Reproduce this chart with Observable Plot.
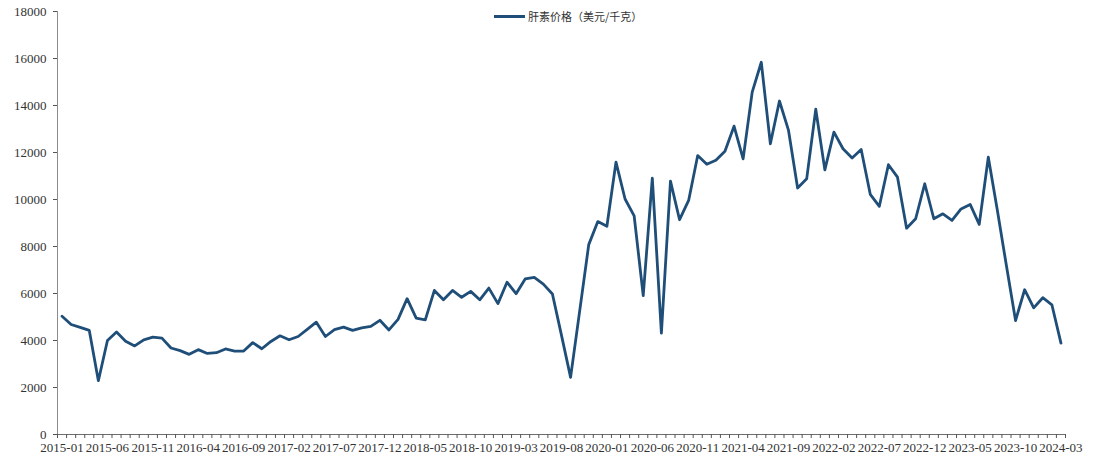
<!DOCTYPE html>
<html>
<head>
<meta charset="utf-8">
<script src="https://cdn.jsdelivr.net/npm/d3@7"></script>
<script src="https://cdn.jsdelivr.net/npm/@observablehq/plot@0.6"></script>
<style>
  html, body { margin: 0; padding: 0; background: #fff; }
  #wrap { position: relative; width: 1099px; height: 456px; }
  #wrap svg, #wrap svg text { font-family: "Liberation Serif", "Times New Roman", serif; }
  #legend { position: absolute; top: 8px; left: 494px; display: flex; align-items: center;
    font-family: "Noto Sans CJK SC", sans-serif; font-size: 11px; color: #333; white-space: nowrap; }
  #legend .sw { width: 31px; height: 3px; background: #1f4e79; margin-right: 3px; }
</style>
</head>
<body>
<div id="wrap"><div id="legend"><span class="sw"></span><span id="legtext"></span></div></div>
<script>
const seriesName = "肝素价格（美元/千克）";
const startYear = 2015, startMonth = 1, monthCount = 111;
const prices = [
  5030, 4680, 4560, 4430, 2290, 4000, 4360, 3970, 3770, 4030, 4140, 4100,
  3680, 3570, 3410, 3610, 3450, 3480, 3640, 3550, 3550, 3910, 3650, 3960,
  4200, 4030, 4170, 4470, 4780, 4170, 4460, 4570, 4430, 4540, 4600, 4860,
  4450, 4900, 5780, 4950, 4880, 6130, 5730, 6130, 5840, 6090, 5730, 6230,
  5570, 6480, 5990, 6620, 6690, 6400, 5980, 4220, 2430, 5250, 8080, 9060,
  8860, 11590, 10020, 9300, 5910, 10910, 4310, 10780, 9140, 9960, 11870, 11500,
  11670, 12050, 13120, 11730, 14570, 15840, 12370, 14190, 12940, 10490, 10880, 13840,
  11260, 12870, 12160, 11770, 12130, 10220, 9710, 11480, 10950, 8780, 9180, 10670,
  9180, 9390, 9110, 9600, 9790, 8940, 11800, 9530, 7170, 4850, 6160, 5390,
  5820, 5520, 3890
];
const yTicks = [0, 2000, 4000, 6000, 8000, 10000, 12000, 14000, 16000, 18000];
const labelEvery = 5;

// category labels
const months = [];
for (let i = 0; i < monthCount; i++) {
  const m0 = startMonth - 1 + i;
  const y = startYear + Math.floor(m0 / 12);
  const m = (m0 % 12) + 1;
  months.push(`${y}-${String(m).padStart(2, "0")}`);
}
const data = prices.map((v, i) => ({i, month: months[i], value: v}));
const xDomain = [-0.5, monthCount - 0.5];
const boundaries = d3.range(monthCount + 1).map(k => k - 0.5);
const labelIdx = d3.range(0, monthCount, labelEvery);

document.getElementById("legtext").textContent = seriesName;

const chart = Plot.plot({
  width: 1099,
  height: 456,
  marginLeft: 57,
  marginRight: 34,
  marginTop: 11,
  marginBottom: 22,
  style: "font-family: 'Liberation Serif', 'Times New Roman', serif; font-size: 13px; color: #333; background: #fff; overflow: visible;",
  x: {type: "linear", domain: xDomain},
  y: {domain: [0, 18000]},
  marks: [
    Plot.ruleX([xDomain[0]], {stroke: "#8c8c8c", strokeWidth: 1}),
    Plot.ruleY([0], {stroke: "#6e6e6e", strokeWidth: 1}),
    Plot.axisY({ticks: yTicks, tickSize: 4, tickPadding: 7, tickFormat: d3.format("d"), stroke: "#555", fill: "#333", label: null}),
    Plot.axisX({ticks: boundaries, tickSize: 4, tickFormat: () => "", stroke: "#555", label: null}),
    Plot.axisX({ticks: labelIdx, tickSize: 0, tickPadding: 8, tickFormat: i => months[i], fill: "#333", label: null}),
    Plot.line(data, {x: "i", y: "value", stroke: "#1f4e79", strokeWidth: 2.8, strokeLinejoin: "round", strokeLinecap: "round"})
  ]
});
document.getElementById("wrap").prepend(chart);
</script>
</body>
</html>
